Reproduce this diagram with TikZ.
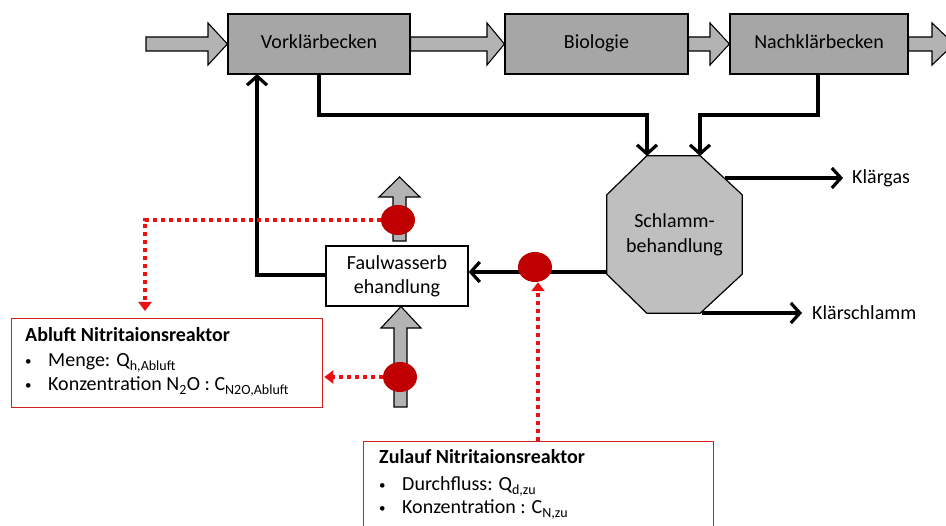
\documentclass[tikz,border=0pt]{standalone}
\usepackage{fontspec}
\setmainfont{Carlito}
\usetikzlibrary{arrows.meta,calc,shapes.geometric}
\definecolor{boxgray}{HTML}{A6A6A6}
\definecolor{arrgray}{HTML}{B3B3B3}
\definecolor{octgray}{HTML}{BFBFBF}
\definecolor{dotred}{HTML}{C00000}
\definecolor{linered}{HTML}{E81010}
\definecolor{boxred}{HTML}{D02020}
\newcommand{\smbullet}{{\fontsize{13}{13}\selectfont\raisebox{1.5pt}{•}}}
\tikzset{
  proc/.style={draw=black, line width=1.2pt, fill=boxgray, minimum width=182pt, minimum height=60pt, inner sep=0pt, text height=13pt, text depth=4pt, font=\fontsize{20}{24}\selectfont},
  whitebox/.style={draw=black, line width=1.2pt, fill=white, minimum width=142pt, minimum height=60pt, inner sep=0pt, align=center, font=\fontsize{20}{24}\selectfont},
  blockarrow/.style={draw=black, line width=1.1pt, fill=arrgray, line join=miter},
  flow/.style={draw=black, line width=3.5pt, line join=miter, -{Straight Barb[length=9pt,width=20pt,line width=3.2pt]}},
  meas/.style={draw=none, fill=dotred, ellipse, minimum width=34pt, minimum height=30pt, inner sep=0pt},
  probe/.style={draw=linered, line width=3.5pt, dash pattern=on 4pt off 4pt, -{Triangle[length=9pt,width=13pt]}},
  infobox/.style={draw=boxred, line width=1.3pt, fill=white},
  lbl/.style={font=\fontsize{20}{25}\selectfont, inner sep=0pt},
  infotext/.style={font=\fontsize{20}{24}\selectfont, inner sep=0pt, anchor=base west},
}
\begin{document}
\begin{tikzpicture}[x=1pt,y=-1pt]
\useasboundingbox (0,0) rectangle (946,526);

% main line boxes
\node[proc] (vkb) at (319,44) {Vorklärbecken};
\node[proc, minimum width=183pt] (bio) at (596.5,44) {Biologie};
\node[proc, minimum width=178pt] (nkb) at (819,44) {Nachklärbecken};

% gray block arrows along main line
\draw[blockarrow] (146,37) -- (208,37) -- (208,23) -- (vkb.west) -- (208,65) -- (208,51) -- (146,51) -- cycle;
\draw[blockarrow] (vkb.east |- 0,37) -- (487,37) -- (487,23) -- (bio.west) -- (487,65) -- (487,51) -- (vkb.east |- 0,51) -- cycle;
\draw[blockarrow] (bio.east |- 0,37) -- (710,37) -- (710,23) -- (nkb.west) -- (710,65) -- (710,51) -- (bio.east |- 0,51) -- cycle;
\draw[blockarrow] (nkb.east |- 0,37) -- (932,37) -- (932,23) -- (954,44) -- (932,65) -- (932,51) -- (nkb.east |- 0,51) -- cycle;

% sludge treatment octagon
\node[lbl, align=center, minimum width=135pt, minimum height=157pt] (sb) at (674.5,234.5) {\phantom{Schlamm-}};
\draw[line width=1.2pt, fill=octgray, line join=miter]
  ($(sb.north west)+(40,0)$) -- ($(sb.north east)+(-42,0)$) -- ($(sb.north east)+(0,39)$) --
  ($(sb.south east)+(0,-39)$) -- ($(sb.south east)+(-42,0)$) -- ($(sb.south west)+(40,0)$) --
  ($(sb.south west)+(0,-39)$) -- ($(sb.north west)+(0,39)$) -- cycle;
\node[lbl, align=center] (sbt) at (sb.center) {Schlamm-\\behandlung};

% Faulwasserbehandlung
\node[whitebox] (fw) at (397,276) {Faulwasserb\\ehandlung};

% gray up arrows at Faulwasserbehandlung
\draw[blockarrow] (393,241) -- (393,197) -- (379,197) -- (399.5,177) -- (420,197) -- (406,197) -- (406,241) -- cycle;
\draw[blockarrow] (394,407) -- (394,328) -- (381,328) -- (401,0 |- fw.south) -- (421,328) -- (407,328) -- (407,407) -- cycle;

% black flows
\coordinate (c1) at (319,115);
\coordinate (c2) at (818,115);
\draw[flow] (319,74) -- (c1) -- (647,115) -- (647,156);
\draw[flow] (c2 |- nkb.south) -- (c2) -- (700,115) -- (700,156);
\draw[flow] (607,272) -- (fw.east |- 0,272);
\draw[flow] (fw.west |- 0,275) -- (257,275) -- (257,74);
\node[lbl, anchor=west] (kg) at (852,178) {Klärgas};
\node[lbl, anchor=west] (ks) at (812,313) {Klärschlamm};
\draw[flow, shorten >=9pt] (725,178) -- (kg.west);
\draw[flow, shorten >=10pt] (702,313) -- (ks.west);

% info boxes
\node[infobox, minimum width=311pt, minimum height=89pt, anchor=north west] (ab) at (11,318) {};
\node[infobox, minimum width=350pt, minimum height=110pt, anchor=north west] (zu) at (363,441) {};

\node[infotext] (ab1) at (25,342) {\bfseries Abluft Nitritaionsreaktor};
\node[infotext] (ab2) at (25,367) {\smbullet};
\node[infotext] (ab3) at (48,367) {Menge: Q\textsubscript{h,Abluft}};
\node[infotext] (ab4) at (25,391) {\smbullet};
\node[infotext] (ab5) at (48,391) {Konzentration N\textsubscript{2}O : C\textsubscript{N2O,Abluft}};

\node[infotext] (zu1) at (379,464) {\bfseries Zulauf Nitritaionsreaktor};
\node[infotext] (zu2) at (379,491) {\smbullet};
\node[infotext] (zu3) at (402,491) {Durchfluss: Q\textsubscript{d,zu}};
\node[infotext] (zu4) at (379,514) {\smbullet};
\node[infotext] (zu5) at (402,514) {Konzentration : C\textsubscript{N,zu}};

% measurement points
\node[meas] (m1) at (398,220) {};
\node[meas] (m2) at (535,267) {};
\node[meas] (m3) at (400,377) {};

% red probe lines
\draw[probe, shorten >=7pt] (m1.west) -- (145,220) -- (145,0 |- ab.north);
\draw[probe, shorten >=1pt] (m3.west) -- (ab.east |- m3.west);
\draw[probe] (538,441) -- (538,0 |- m2.south);
\end{tikzpicture}
\end{document}
